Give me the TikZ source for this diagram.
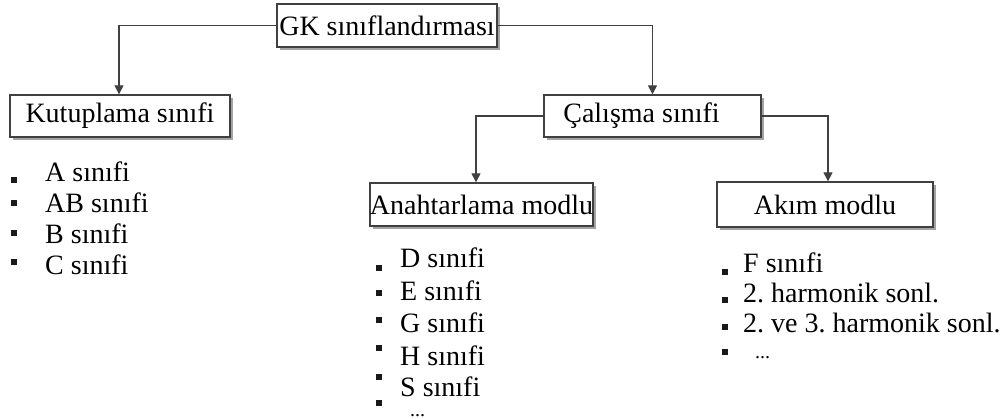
\documentclass[tikz,border=0pt]{standalone}
\usepackage{fontspec}
\setmainfont{Liberation Serif}
\usetikzlibrary{arrows.meta,shadows}
\definecolor{linegray}{HTML}{404040}
\frenchspacing
\tikzset{
  box/.style={draw=linegray, line width=1.4pt, fill=white, inner sep=0pt,
    font=\fontsize{28}{30}\selectfont,
    drop shadow={shadow xshift=3pt, shadow yshift=-3pt, fill=black!45, opacity=0.8}},
  conn/.style={draw=linegray, line width=1.4pt, -{Triangle[length=9pt,width=9pt]}},
  bul/.style={fill=black!90, minimum size=5.5pt, inner sep=0pt},
  item/.style={anchor=base west, inner sep=0pt, font=\fontsize{28}{30}\selectfont},
  dots/.style={anchor=base west, inner sep=0pt, font=\fontsize{20}{20}\selectfont}
}
\begin{document}
\begin{tikzpicture}[x=1pt,y=-1pt]
\useasboundingbox (0,0) rectangle (1006,419);
% boxes
\node[box, minimum width=220pt, minimum height=43pt] (gk) at (387,25.5) {GK sınıflandırması};
\node[box, minimum width=220pt, minimum height=42pt] (kut) at (120,116) {Kutuplama sınıfi};
\node[box, minimum width=217pt, minimum height=42pt] (cal) at (652.5,116) {\hspace*{-22pt}Çalışma sınıfi};
\node[box, minimum width=217pt, minimum height=43pt] (ana) at (481.5,204.5) {Anahtarlama modlu};
\node[box, minimum width=216pt, minimum height=45pt] (aki) at (825,204.5) {Akım modlu};
% connectors
\draw[conn] (gk.west) -| ([xshift=-1pt]kut.north);
\draw[conn] (gk.east) -| (cal.north);
\draw[conn] (cal.west) -| ([xshift=-5.5pt]ana.north);
\draw[conn] (cal.east) -| ([xshift=3pt]aki.north);
% left list
\node[bul] (lb1) at (14,180) {};
\node[bul] (lb2) at (14,203) {};
\node[bul] (lb3) at (14,233) {};
\node[bul] (lb4) at (14,262) {};
\node[item] (lt1) at (45,182) {A sınıfi};
\node[item] (lt2) at (45,213) {AB sınıfi};
\node[item] (lt3) at (45,244) {B sınıfi};
\node[item] (lt4) at (45,275) {C sınıfi};
% middle list
\node[bul] (mb1) at (379,268) {};
\node[bul] (mb2) at (379,293) {};
\node[bul] (mb3) at (379,320) {};
\node[bul] (mb4) at (379,348) {};
\node[bul] (mb5) at (379,377) {};
\node[bul] (mb6) at (379,403) {};
\node[item] (mt1) at (400,268) {D sınıfi};
\node[item] (mt2) at (400,301) {E sınıfi};
\node[item] (mt3) at (400,333) {G sınıfi};
\node[item] (mt4) at (400,366) {H sınıfi};
\node[item] (mt5) at (400,396) {S sınıfi};
\node[dots] (mt6) at (410,416) {...};
% right list
\node[bul] (rb1) at (725,272) {};
\node[bul] (rb2) at (725,300) {};
\node[bul] (rb3) at (725,327) {};
\node[bul] (rb4) at (725,352) {};
\node[item] (rt1) at (743,273) {F sınıfi};
\node[item] (rt2) at (743,303) {2. harmonik sonl.};
\node[item] (rt3) at (743,333) {2. ve 3. harmonik sonl.};
\node[dots] (rt4) at (755,359) {...};
\end{tikzpicture}
\end{document}
